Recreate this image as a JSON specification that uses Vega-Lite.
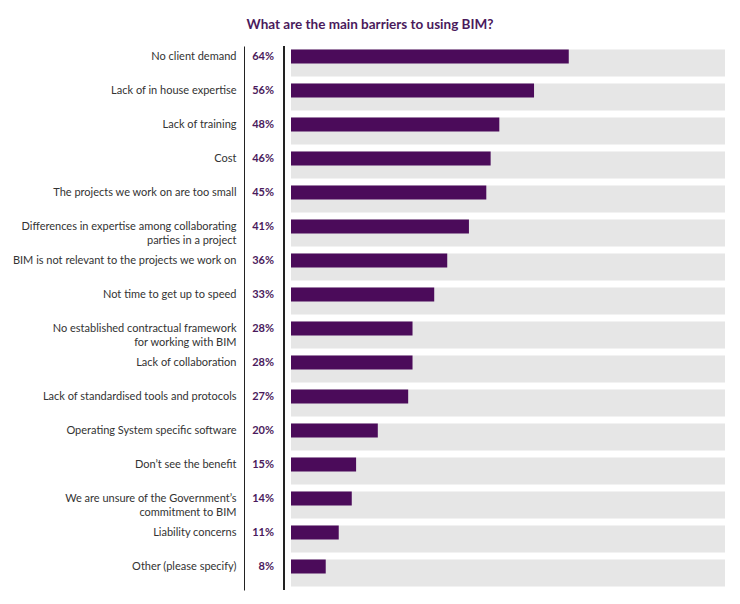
{
  "$schema": "https://vega.github.io/schema/vega-lite/v6.json",
  "width": 434,
  "height": 544,
  "autosize": {"type": "none"},
  "padding": {"left": 291, "top": 46, "right": 15, "bottom": 14},
  "background": "white",
  "title": {
    "text": "What are the main barriers to using BIM?",
    "anchor": "middle",
    "dx": -138,
    "offset": 14,
    "font": "Lato",
    "fontSize": 13.5,
    "fontWeight": "bold",
    "color": "#4a1a5c"
  },
  "data": {
    "values": [
      {"barrier": "No client demand", "pct": 0.64},
      {"barrier": "Lack of in house expertise", "pct": 0.56},
      {"barrier": "Lack of training", "pct": 0.48},
      {"barrier": "Cost", "pct": 0.46},
      {"barrier": "The projects we work on are too small", "pct": 0.45},
      {"barrier": "Differences in expertise among collaborating\nparties in a project", "pct": 0.41},
      {"barrier": "BIM is not relevant to the projects we work on", "pct": 0.36},
      {"barrier": "Not time to get up to speed", "pct": 0.33},
      {"barrier": "No established contractual framework\nfor working with BIM", "pct": 0.28},
      {"barrier": "Lack of collaboration", "pct": 0.28},
      {"barrier": "Lack of standardised tools and protocols", "pct": 0.27},
      {"barrier": "Operating System specific software", "pct": 0.20},
      {"barrier": "Don’t see the benefit", "pct": 0.15},
      {"barrier": "We are unsure of the Government’s\ncommitment to BIM", "pct": 0.14},
      {"barrier": "Liability concerns", "pct": 0.11},
      {"barrier": "Other (please specify)", "pct": 0.08}
    ]
  },
  "layer": [
    {
      "mark": {"type": "bar", "color": "#e6e6e6"},
      "encoding": {
        "y": {
          "field": "barrier",
          "type": "nominal",
          "sort": null,
          "scale": {"paddingInner": 0.2, "paddingOuter": 0.1},
          "axis": {
            "title": null,
            "offset": 47,
            "domainColor": "#222222",
            "ticks": false,
            "grid": false,
            "labelPadding": 8,
            "labelFont": "Lato",
            "labelFontSize": 11,
            "labelColor": "#333333",
            "labelBaseline": "top",
            "labelOffset": -12,
            "labelLineHeight": 14,
            "labelLimit": 300,
            "labelExpr": "split(datum.label, '\\n')"
          }
        },
        "x": {"datum": 1, "type": "quantitative", "scale": {"domain": [0, 1]}, "axis": null}
      }
    },
    {
      "mark": {"type": "bar", "color": "#4b0b5a", "height": 14, "yOffset": -6.6},
      "encoding": {
        "y": {"field": "barrier", "type": "nominal", "sort": null},
        "x": {"field": "pct", "type": "quantitative", "axis": null}
      }
    },
    {
      "mark": {
        "type": "text",
        "align": "right",
        "baseline": "middle",
        "dx": -17,
        "yOffset": -6,
        "font": "Lato",
        "fontSize": 11,
        "fontWeight": "bold",
        "color": "#4a1a5c"
      },
      "encoding": {
        "y": {"field": "barrier", "type": "nominal", "sort": null},
        "x": {"datum": 0, "type": "quantitative", "axis": null},
        "text": {"field": "pct", "type": "quantitative", "format": ".0%"}
      }
    },
    {
      "mark": {"type": "rule", "xOffset": -7, "color": "#222222", "strokeWidth": 1},
      "encoding": {
        "x": {"datum": 0, "type": "quantitative", "axis": null}
      }
    }
  ],
  "config": {"view": {"stroke": null}}
}
